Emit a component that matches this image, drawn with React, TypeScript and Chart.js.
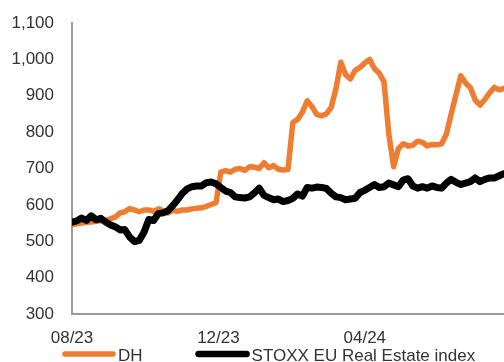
import React, { useEffect, useRef } from "react";
import { Chart, registerables } from "chart.js";

Chart.register(...registerables);

// ---- Data ----
const STEP_DAYS = 4; // one observation every 4 days, starting 1 Aug 2023
const X_MAX_DAYS = 360;

const tickDays = [0, 122, 244];
const tickLabels = ["08/23", "12/23", "04/24"];

const yMin = 300;
const yMax = 1100;
const yStep = 100;

const seriesNames = ["DH", "STOXX EU Real Estate index"];
const seriesColors = ["#EE7D31", "#000000"];

const dhValues = [
  545, 548, 550, 552, 553, 555, 556, 557, 562, 566,
  578, 581, 590, 586, 581, 586, 586, 582, 589, 583,
  578, 585, 582, 586, 586, 589, 591, 592, 596, 601,
  606, 690, 694, 690, 698, 700, 695, 705, 704, 700,
  716, 702, 708, 698, 696, 697, 826, 835, 855, 886,
  870, 848, 845, 850, 868, 920, 992, 958, 946, 970,
  978, 990, 1000, 975, 962, 938, 795, 705, 755, 768,
  762, 764, 775, 772, 762, 766, 765, 768, 795, 850,
  903, 955, 935, 922, 888, 874, 890, 908, 923, 916,
  920,
];

const stoxxValues = [
  553, 556, 564, 557, 570, 559, 563, 553, 545, 540,
  531, 532, 512, 499, 502, 525, 560, 557, 576, 578,
  584, 598, 614, 632, 644, 650, 652, 652, 661, 663,
  658, 648, 638, 634, 622, 620, 619, 622, 633, 646,
  626, 620, 614, 616, 609, 612, 618, 630, 624, 648,
  646, 649, 648, 645, 632, 622, 620, 614, 616, 618,
  634, 640, 648, 656, 648, 650, 660, 655, 650, 668,
  672, 652, 646, 650, 646, 652, 648, 646, 660, 670,
  662, 656, 660, 664, 674, 664, 670, 674, 674, 680,
  686,
];

const FONT_FAMILY = "'Liberation Sans', Arial, Helvetica, sans-serif";
const TEXT_COLOR = "#333333";
const AXIS_COLOR = "#9a9a9a";

const toPoints = (vals: number[]) => vals.map((v, i) => ({ x: i * STEP_DAYS, y: v }));

const legendPlugin = {
  id: "customLegend",
  afterDraw(chart: any) {
    const ctx = chart.ctx as CanvasRenderingContext2D;
    const lineLen = 52;
    const gap = 3;
    const itemGap = 54;
    const lineY = chart.height - 8;
    const textY = chart.height - 1.5;
    let x = chart.chartArea.left - 9;
    ctx.save();
    ctx.font = `17px ${FONT_FAMILY}`;
    ctx.textBaseline = "alphabetic";
    ctx.textAlign = "left";
    seriesNames.forEach((name, i) => {
      ctx.strokeStyle = seriesColors[i];
      ctx.lineWidth = i === 0 ? 5.5 : 6.5;
      ctx.lineCap = "round";
      ctx.beginPath();
      ctx.moveTo(x + 2, lineY);
      ctx.lineTo(x + lineLen - 2, lineY);
      ctx.stroke();
      ctx.fillStyle = TEXT_COLOR;
      const tx = x + lineLen + gap;
      ctx.fillText(name, tx, textY);
      x = tx + ctx.measureText(name).width + itemGap;
    });
    ctx.restore();
  },
};

export default function App() {
  const canvasRef = useRef<HTMLCanvasElement | null>(null);

  useEffect(() => {
    const canvas = canvasRef.current;
    if (!canvas) return;
    const chart = new Chart(canvas, {
      type: "line",
      data: {
        datasets: [
          {
            label: seriesNames[1],
            data: toPoints(stoxxValues),
            borderColor: seriesColors[1],
            backgroundColor: seriesColors[1],
            borderWidth: 7,
            pointRadius: 0,
            tension: 0,
            borderJoinStyle: "round",
            borderCapStyle: "round",
            order: 0,
          },
          {
            label: seriesNames[0],
            data: toPoints(dhValues),
            borderColor: seriesColors[0],
            backgroundColor: seriesColors[0],
            borderWidth: 5.5,
            pointRadius: 0,
            tension: 0,
            borderJoinStyle: "round",
            borderCapStyle: "round",
            order: 1,
          },
        ],
      },
      options: {
        responsive: false,
        animation: false,
        devicePixelRatio: 1,
        layout: { padding: { top: 23, left: 0, right: 0, bottom: 0 } },
        plugins: {
          legend: { display: false },
          tooltip: { enabled: false },
        },
        scales: {
          x: {
            type: "linear",
            min: 0,
            max: X_MAX_DAYS,
            grid: { display: false, drawTicks: false },
            border: { display: true, color: AXIS_COLOR, width: 2 },
            afterBuildTicks: (scale: any) => {
              scale.ticks = tickDays.map((v) => ({ value: v }));
            },
            afterFit: (scale: any) => {
              scale.height = 48;
              scale.paddingLeft = 0;
              scale.paddingRight = 0;
            },
            ticks: {
              autoSkip: false,
              maxRotation: 0,
              padding: 14,
              color: TEXT_COLOR,
              font: { family: FONT_FAMILY, size: 17 },
              callback: (value: any) => {
                const idx = tickDays.indexOf(Number(value));
                return idx >= 0 ? tickLabels[idx] : "";
              },
            },
          },
          y: {
            type: "linear",
            min: yMin,
            max: yMax,
            grid: { display: false, drawTicks: false },
            border: { display: true, color: AXIS_COLOR, width: 2 },
            afterFit: (scale: any) => {
              scale.width = 72;
              scale.paddingTop = 0;
              scale.paddingBottom = 0;
            },
            ticks: {
              stepSize: yStep,
              padding: 18,
              color: TEXT_COLOR,
              font: { family: FONT_FAMILY, size: 17 },
              callback: (value: any) => Number(value).toLocaleString("en-US"),
            },
          },
        },
      },
      plugins: [legendPlugin],
    });
    return () => chart.destroy();
  }, []);

  return (
    <div style={{ position: "fixed", left: 0, top: 0, width: 504, height: 362, overflow: "hidden", background: "#fff" }}>
      <canvas ref={canvasRef} width={504} height={362} style={{ display: "block" }} />
    </div>
  );
}
